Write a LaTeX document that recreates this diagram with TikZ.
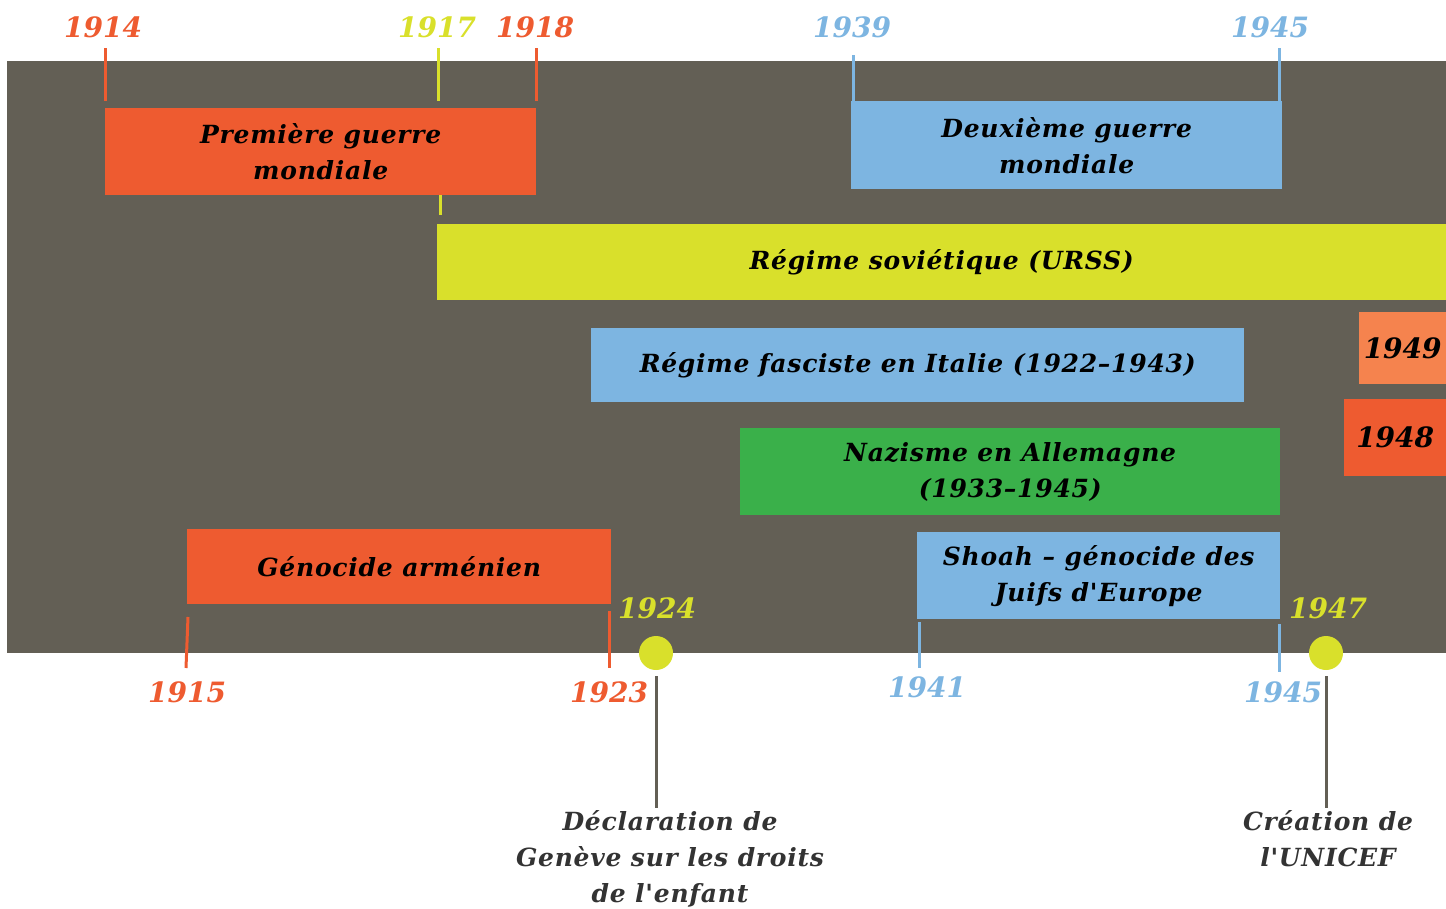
\documentclass[tikz,border=0pt]{standalone}
\usepackage{fontspec}
\setmainfont{DejaVu Serif}
\newfontfamily\dispfont[LetterSpace=3]{DejaVu Serif}
\definecolor{bg}{HTML}{635F55}
\definecolor{cred}{HTML}{EE5B30}
\definecolor{corange}{HTML}{F5834E}
\definecolor{cyellow}{HTML}{D9E02B}
\definecolor{cblue}{HTML}{7DB5E1}
\definecolor{cgreen}{HTML}{3AB04A}
\definecolor{ctext}{HTML}{333333}
\newcommand\lblfont{\dispfont\fontsize{25}{36}\selectfont\bfseries\itshape}
\newcommand\yrfont{\fontsize{28}{30}\selectfont\bfseries\itshape}
\begin{document}
\begin{tikzpicture}[x=1pt,y=-1pt,
  box/.style={rectangle, inner sep=0pt, anchor=north west, align=center, font=\lblfont, text=black},
  yr/.style={font=\yrfont, inner sep=0pt},
  tick/.style={line width=3pt},
  link/.style={line width=3pt, draw=bg},
  dot/.style={circle, fill=cyellow, minimum size=34pt, inner sep=0pt},
  note/.style={font=\lblfont, text=ctext, align=center, inner sep=0pt, anchor=north}]
\useasboundingbox (0,0) rectangle (1446,908);
\fill[bg] (7,61) rectangle (1446,653);

% top years
\node[yr, text=cred] (y1914) at (103,27) {1914};
\node[yr, text=cyellow] (y1917) at (437,27) {1917};
\node[yr, text=cred] (y1918) at (535,27) {1918};
\node[yr, text=cblue] (y1939) at (852,27) {1939};
\node[yr, text=cblue] (y1945a) at (1270,27) {1945};

\draw[tick, cred] (105,48) -- (105,101);
\draw[tick, cyellow] (438,48) -- (438,101);
\draw[tick, cred] (536,48) -- (536,101);
\draw[tick, cblue] (853,55) -- (853,101);
\draw[tick, cblue] (1279,48) -- (1279,101);
\draw[tick, cyellow] (440,188) -- (440,215);

% boxes
\node[box, fill=cred, minimum width=431pt, minimum height=87pt] (ww1) at (105,108) {Première guerre\\mondiale};
\node[box, fill=cblue, minimum width=431pt, minimum height=88pt] (ww2) at (851,101) {Deuxième guerre\\mondiale};
\node[box, fill=cyellow, minimum width=1009pt, minimum height=76pt] (urss) at (437,224) {Régime soviétique (URSS)};
\node[box, fill=cblue, minimum width=653pt, minimum height=74pt] (ital) at (591,328) {Régime fasciste en Italie (1922–1943)};
\node[box, fill=corange, minimum width=87pt, minimum height=72pt, font=\yrfont] (b1949) at (1359,312) {1949};
\node[box, fill=cred, minimum width=102pt, minimum height=77pt, font=\yrfont] (b1948) at (1344,399) {1948};
\node[box, fill=cgreen, minimum width=540pt, minimum height=87pt] (nazi) at (740,428) {Nazisme en Allemagne\\(1933–1945)};
\node[box, fill=cred, minimum width=424pt, minimum height=75pt] (armen) at (187,529) {Génocide arménien};
\node[box, fill=cblue, minimum width=363pt, minimum height=87pt] (shoah) at (917,532) {Shoah – génocide des\\Juifs d'Europe};

% bottom ticks and years
\draw[tick, cred] (188,617) -- (186,668);
\draw[tick, cred] (609,611) -- (609,668);
\draw[tick, cblue] (919,622) -- (919,668);
\draw[tick, cblue] (1279,624) -- (1279,672);

\node[yr, text=cred] (y1915) at (187,692) {1915};
\node[yr, text=cred] (y1923) at (609,692) {1923};
\node[yr, text=cblue] (y1941) at (927,687) {1941};
\node[yr, text=cblue] (y1945b) at (1283,692) {1945};
\node[yr, text=cyellow] (y1924) at (657,608) {1924};
\node[yr, text=cyellow] (y1947) at (1328,608) {1947};

% events
\node[dot] (d1924) at (656,653) {};
\node[dot] (d1947) at (1326,653) {};
\node[note] (geneve) at (670,810) {Déclaration de\\Genève sur les droits\\de l'enfant};
\node[note] (unicef) at (1328,810) {Création de\\l'UNICEF};
\coordinate (c1924) at (656,676);
\coordinate (c1947) at (1326,676);
\draw[link] (c1924) -- (656,808);
\draw[link] (c1947) -- (1326,808);
\end{tikzpicture}
\end{document}
